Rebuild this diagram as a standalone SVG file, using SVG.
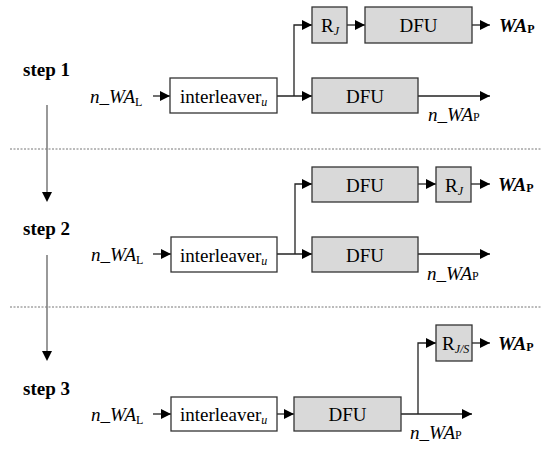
<svg xmlns="http://www.w3.org/2000/svg" width="550" height="452" viewBox="0 0 550 452" font-family="Liberation Serif, Times New Roman, serif">
<style>
text{font-family:Liberation Serif,Times New Roman,serif}
.lbl{font-size:19px}
.step{font-size:19px;font-weight:bold}
.box{fill:#fff;stroke:#333;stroke-width:1.3}
.gbox{fill:#d9d9d9;stroke:#333;stroke-width:1.3}
.ln{fill:none;stroke:#222;stroke-width:1.3}
.sep{stroke:#777;stroke-width:1;stroke-dasharray:2,1.5}
.vs{stroke:#808080;stroke-width:1.6;fill:none}
.it{font-style:italic}
.sub{font-size:12px}
</style>
<defs>
<marker id="ah" viewBox="0 0 10 10" refX="10" refY="5" markerWidth="10" markerHeight="10" markerUnits="userSpaceOnUse" orient="auto">
<path d="M0,0 L10,5 L0,10 z" fill="#000"/>
</marker>
</defs>

<g id="separators">
<line class="sep" x1="10" y1="149" x2="541" y2="149"/>
<line class="sep" x1="10" y1="307" x2="541" y2="307"/>
</g>

<g id="steps">
<text class="step" x="23" y="76" font-family="Liberation Serif">step 1</text>
<text class="step" x="23" y="235" font-family="Liberation Serif">step 2</text>
<text class="step" x="23" y="395" font-family="Liberation Serif">step 3</text>
</g>

<g id="connectors">
<line class="vs" x1="47" y1="105" x2="47" y2="192"/>
<path d="M42,192 L52,192 L47,202 z" fill="#000"/>
<line class="vs" x1="47" y1="255" x2="47" y2="351"/>
<path d="M42,351 L52,351 L47,361 z" fill="#000"/>

<line class="ln" x1="153" y1="96" x2="170" y2="96" marker-end="url(#ah)"/>
<polyline class="ln" points="277,96 294,96 312,96" marker-end="url(#ah)"/>
<polyline class="ln" points="294,96 294,25 312,25" marker-end="url(#ah)"/>
<line class="ln" x1="347" y1="25" x2="365" y2="25" marker-end="url(#ah)"/>
<line class="ln" x1="472" y1="25" x2="490" y2="25" marker-end="url(#ah)"/>
<line class="ln" x1="418" y1="96" x2="490" y2="96" marker-end="url(#ah)"/>

<line class="ln" x1="153" y1="254" x2="171" y2="254" marker-end="url(#ah)"/>
<polyline class="ln" points="277,254 295,254 312,254" marker-end="url(#ah)"/>
<polyline class="ln" points="295,254 295,184 312,184" marker-end="url(#ah)"/>
<line class="ln" x1="418" y1="184" x2="436" y2="184" marker-end="url(#ah)"/>
<line class="ln" x1="471" y1="184" x2="490" y2="184" marker-end="url(#ah)"/>
<line class="ln" x1="418" y1="254" x2="490" y2="254" marker-end="url(#ah)"/>

<line class="ln" x1="153" y1="414" x2="171" y2="414" marker-end="url(#ah)"/>
<line class="ln" x1="277" y1="414" x2="294" y2="414" marker-end="url(#ah)"/>
<polyline class="ln" points="418,414 418,343 436,343" marker-end="url(#ah)"/>
<line class="ln" x1="472" y1="343" x2="490" y2="343" marker-end="url(#ah)"/>
<line class="ln" x1="401" y1="414" x2="472" y2="414" marker-end="url(#ah)"/>
</g>

<g id="s1-input"><text class="lbl" x="90" y="103" font-family="Liberation Serif"><tspan class="it">n_WA</tspan><tspan class="sub" dy="3">L</tspan></text></g>
<g id="s1-interleaver"><rect class="box" x="170" y="78" width="107" height="35"/><text class="lbl" x="180" y="103" font-family="Liberation Serif">interleaver<tspan class="sub it" dy="3">u</tspan></text></g>
<g id="s1-rj"><rect class="gbox" x="312" y="7" width="35" height="36"/><text class="lbl" x="321" y="32" font-family="Liberation Serif">R<tspan class="sub it" dy="3">J</tspan></text></g>
<g id="s1-dfu-top"><rect class="gbox" x="365" y="7" width="107" height="36"/><text class="lbl" x="418.5" y="32" text-anchor="middle" font-family="Liberation Serif">DFU</text></g>
<g id="s1-dfu-bottom"><rect class="gbox" x="312" y="78" width="106" height="35"/><text class="lbl" x="365" y="103" text-anchor="middle" font-family="Liberation Serif">DFU</text></g>
<g id="s1-wap"><text class="lbl" x="499" y="32" font-weight="bold" font-style="italic" font-family="Liberation Serif">WA<tspan class="sub" font-style="normal" dy="1">P</tspan></text></g>
<g id="s1-nwap"><text class="lbl" x="428" y="121" font-family="Liberation Serif"><tspan class="it">n_WA</tspan><tspan class="sub">P</tspan></text></g>

<g id="s2-input"><text class="lbl" x="91" y="261" font-family="Liberation Serif"><tspan class="it">n_WA</tspan><tspan class="sub" dy="3">L</tspan></text></g>
<g id="s2-interleaver"><rect class="box" x="171" y="237" width="106" height="35"/><text class="lbl" x="180" y="262" font-family="Liberation Serif">interleaver<tspan class="sub it" dy="3">u</tspan></text></g>
<g id="s2-dfu-top"><rect class="gbox" x="312" y="167" width="106" height="35"/><text class="lbl" x="365" y="192" text-anchor="middle" font-family="Liberation Serif">DFU</text></g>
<g id="s2-rj"><rect class="gbox" x="436" y="167" width="35" height="35"/><text class="lbl" x="445" y="192" font-family="Liberation Serif">R<tspan class="sub it" dy="3">J</tspan></text></g>
<g id="s2-dfu-bottom"><rect class="gbox" x="312" y="237" width="106" height="35"/><text class="lbl" x="365" y="262" text-anchor="middle" font-family="Liberation Serif">DFU</text></g>
<g id="s2-wap"><text class="lbl" x="498" y="191" font-weight="bold" font-style="italic" font-family="Liberation Serif">WA<tspan class="sub" font-style="normal" dy="1">P</tspan></text></g>
<g id="s2-nwap"><text class="lbl" x="427" y="280" font-family="Liberation Serif"><tspan class="it">n_WA</tspan><tspan class="sub">P</tspan></text></g>

<g id="s3-input"><text class="lbl" x="91" y="421" font-family="Liberation Serif"><tspan class="it">n_WA</tspan><tspan class="sub" dy="3">L</tspan></text></g>
<g id="s3-interleaver"><rect class="box" x="171" y="397" width="106" height="34"/><text class="lbl" x="180" y="421" font-family="Liberation Serif">interleaver<tspan class="sub it" dy="3">u</tspan></text></g>
<g id="s3-dfu"><rect class="gbox" x="294" y="397" width="107" height="34"/><text class="lbl" x="347.5" y="421" text-anchor="middle" font-family="Liberation Serif">DFU</text></g>
<g id="s3-rjs"><rect class="gbox" x="436" y="325" width="36" height="36"/><text class="lbl" x="442" y="350" font-family="Liberation Serif">R<tspan class="sub it" dy="3">J/S</tspan></text></g>
<g id="s3-wap"><text class="lbl" x="498" y="350" font-weight="bold" font-style="italic" font-family="Liberation Serif">WA<tspan class="sub" font-style="normal" dy="1">P</tspan></text></g>
<g id="s3-nwap"><text class="lbl" x="410" y="439" font-family="Liberation Serif"><tspan class="it">n_WA</tspan><tspan class="sub">P</tspan></text></g>
</svg>
